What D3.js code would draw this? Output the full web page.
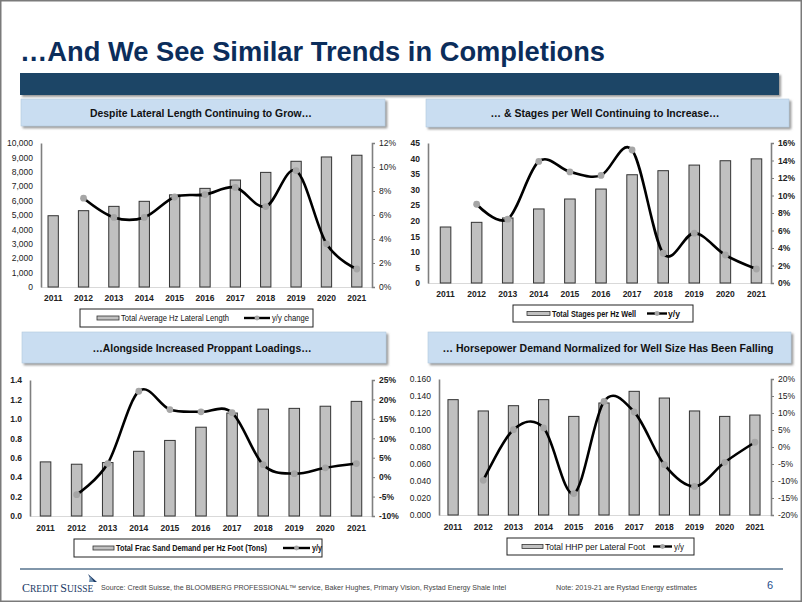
<!DOCTYPE html>
<html><head><meta charset="utf-8">
<script src="https://cdn.jsdelivr.net/npm/d3@7/dist/d3.min.js"></script>
<style>
html,body{margin:0;padding:0;background:#fff;}
svg{display:block;}
</style></head>
<body>
<script>
// ---------- DATA ----------
const years = ["2011","2012","2013","2014","2015","2016","2017","2018","2019","2020","2021"];

const lateralLength = [4950, 5300, 5600, 5950, 6400, 6850, 7430, 7960, 8730, 9030, 9150];
const lateralYoY    = [null, 7.4, 5.8, 5.8, 7.5, 7.7, 8.3, 6.7, 9.7, 3.6, 1.5];

const stagesPerWell = [18.0, 19.5, 20.9, 23.8, 27.0, 30.2, 34.8, 36.1, 37.9, 39.3, 39.9];
const stagesYoY     = [null, 9.0, 7.3, 13.9, 12.7, 12.3, 15.2, 3.4, 5.7, 3.2, 1.6];

const sandPerFoot   = [0.557, 0.533, 0.55, 0.666, 0.778, 0.914, 1.06, 1.10, 1.108, 1.13, 1.18];
const sandYoY       = [null, -4.5, 3.5, 22.1, 17.4, 16.8, 16.6, 3.2, 0.9, 2.4, 3.5];

const hhpPerFoot    = [0.1357, 0.1224, 0.1286, 0.1357, 0.116, 0.1318, 0.1455, 0.1376, 0.1224, 0.116, 0.1176];
const hhpYoY        = [null, -9.8, 5.1, 5.6, -13.7, 13.4, 10.3, -5.2, -11.6, -4.5, 1.4];

const leftTicks1  = [0,1000,2000,3000,4000,5000,6000,7000,8000,9000,10000];
const rightTicks1 = [0,2,4,6,8,10,12];
const leftTicks2  = [0,5,10,15,20,25,30,35,40,45];
const rightTicks2 = [0,2,4,6,8,10,12,14,16];
const leftTicks3  = [0,0.2,0.4,0.6,0.8,1.0,1.2,1.4];
const rightTicks3 = [-10,-5,0,5,10,15,20,25];
const leftTicks4  = [0,0.02,0.04,0.06,0.08,0.10,0.12,0.14,0.16];
const rightTicks4 = [-20,-15,-10,-5,0,5,10,15,20];

const titleText = "\u2026And We See Similar Trends in Completions";
const headers = [
  "Despite Lateral Length Continuing to Grow\u2026",
  "\u2026 & Stages per Well Continuing to Increase\u2026",
  "\u2026Alongside Increased Proppant Loadings\u2026",
  "\u2026 Horsepower Demand Normalized for Well Size Has Been Falling"
];
const barLegends  = ["Total Average Hz Lateral Length","Total Stages per Hz Well","Total Frac Sand Demand per Hz Foot (Tons)","Total  HHP per Lateral Foot"];
const lineLegends = ["y/y change","y/y","y/y","y/y"];
const sourceText = "Source: Credit Suisse, the BLOOMBERG PROFESSIONAL\u2122 service, Baker Hughes, Primary Vision, Rystad Energy Shale Intel";
const noteText = "Note: 2019-21 are Rystad Energy estimates";

// ---------- LAYOUT ----------
const W = 802, H = 602;
const SANS = "'Liberation Sans',Arial,sans-serif";
const TICK = SANS;
const FS = 8.5;

const panels = [
  {header: headers[0], hBox:[21,99,364,27], hText:[201,117,222], hSize:11,
   axisL:41, axisR:372, yTop:143, yBot:287, band:[38,372], yearY:301,
   bars: lateralLength, yoy: lateralYoY, lDom:[0,10000], rDom:[0,12],
   lTicks: leftTicks1, rTicks: rightTicks1, lFmt: d3.format(","), bold:false,
   leg:{box:[80,309,233,18], sw:97, txt:121, tw:108, ln:[244,270], ltxt:272, ltw:37}, barLeg: barLegends[0], lineLeg: lineLegends[0]},
  {header: headers[1], hBox:[426,99,363,28], hText:[605,117,229], hSize:11,
   axisL:428, axisR:771, yTop:143, yBot:283, band:[430,772], yearY:297,
   bars: stagesPerWell, yoy: stagesYoY, lDom:[0,45], rDom:[0,16],
   lTicks: leftTicks2, rTicks: rightTicks2, lFmt: d3.format("d"), bold:true,
   leg:{box:[513,305,180,17], sw:527, txt:552, tw:84, ln:[647,667], ltxt:668, ltw:12}, barLeg: barLegends[1], lineLeg: lineLegends[1]},
  {header: headers[2], hBox:[22,332,364,31], hText:[202,352,219], hSize:11,
   axisL:30, axisR:372, yTop:380, yBot:516, band:[30,372], yearY:531,
   bars: sandPerFoot, yoy: sandYoY, lDom:[0,1.4], rDom:[-10,25],
   lTicks: leftTicks3, rTicks: rightTicks3, lFmt: d3.format(".1f"), bold:true,
   leg:{box:[74,539,248,18], sw:93, txt:116, tw:151, ln:[283,310], ltxt:312, ltw:10}, barLeg: barLegends[2], lineLeg: lineLegends[2]},
  {header: headers[3], hBox:[428,332,363,31], hText:[608,352,331], hSize:10.5,
   axisL:439, axisR:771, yTop:379, yBot:515, band:[438,770], yearY:530,
   bars: hhpPerFoot, yoy: hhpYoY, lDom:[0,0.16], rDom:[-20,20],
   lTicks: leftTicks4, rTicks: rightTicks4, lFmt: d3.format(".3f"), bold:false,
   leg:{box:[507,538,187,17], sw:522, txt:545, tw:100, ln:[653,672], ltxt:674, ltw:10}, barLeg: barLegends[3], lineLeg: lineLegends[3]}
];

const svg = d3.select("body").append("svg").attr("width", W).attr("height", H);
const defs = svg.append("defs");
const f = defs.append("filter").attr("id","sh").attr("x","-5%").attr("y","-20%").attr("width","115%").attr("height","160%");
f.append("feDropShadow").attr("dx",2).attr("dy",2).attr("stdDeviation",1.2).attr("flood-color","#777").attr("flood-opacity",0.75);

svg.append("rect").attr("x",0).attr("y",0).attr("width",W).attr("height",H).attr("fill","#fff");

// Title
svg.append("text").attr("x",20).attr("y",61)
  .attr("font-family",SANS).attr("font-weight","bold").attr("font-size",27)
  .attr("fill","#0b2d5b").attr("textLength",585).attr("lengthAdjust","spacingAndGlyphs")
  .text(titleText);
// Band
svg.append("rect").attr("x",20).attr("y",73).attr("width",759).attr("height",22)
  .attr("fill","#1f4466").attr("filter","url(#sh)");

panels.forEach(p => {
  const g = svg.append("g");
  // header box
  g.append("rect").attr("x",p.hBox[0]).attr("y",p.hBox[1]).attr("width",p.hBox[2]).attr("height",p.hBox[3])
    .attr("fill","#c9ddf1").attr("stroke","#b3c9de").attr("stroke-width",0.6).attr("filter","url(#sh)");
  g.append("text").attr("x",p.hText[0]).attr("y",p.hText[1]).attr("text-anchor","middle")
    .attr("font-family",SANS).attr("font-weight","bold").attr("font-size",p.hSize).attr("fill","#111")
    .attr("textLength",p.hText[2]).attr("lengthAdjust","spacingAndGlyphs").text(p.header);

  const x = d3.scaleBand().domain(years).range(p.band).padding(0);
  const yL = d3.scaleLinear().domain(p.lDom).range([p.yBot,p.yTop]);
  const yR = d3.scaleLinear().domain(p.rDom).range([p.yBot,p.yTop]);
  const bw = x.bandwidth()*0.34;
  const fw = p.bold ? "bold" : "normal";

  // x baseline
  g.append("line").attr("x1",p.axisL).attr("x2",p.axisR).attr("y1",p.yBot+0.5).attr("y2",p.yBot+0.5)
    .attr("stroke","#d9d9d9").attr("stroke-width",1);

  // bars
  g.selectAll("rect.bar").data(p.bars).enter().append("rect").attr("class","bar")
    .attr("x",(d,i)=>x(years[i])+x.bandwidth()/2-bw/2)
    .attr("y",d=>yL(d)).attr("width",bw).attr("height",d=>p.yBot-yL(d))
    .attr("fill","#c0c0c0").attr("stroke","#333").attr("stroke-width",1);

  // left axis
  const aL = g.append("g").attr("transform",`translate(${p.axisL},0)`)
    .call(d3.axisLeft(yL).tickValues(p.lTicks).tickFormat(p.lFmt).tickSize(0).tickPadding(8));
  aL.select(".domain").attr("stroke","#7f7f7f").attr("stroke-width",1.6);
  aL.selectAll("text").attr("font-family",TICK).attr("font-size",FS).attr("font-weight",fw).attr("fill","#222");

  // right axis
  const aR = g.append("g").attr("transform",`translate(${p.axisR},0)`)
    .call(d3.axisRight(yR).tickValues(p.rTicks).tickFormat(d=>d+"%").tickSize(3).tickPadding(4));
  aR.select(".domain").attr("stroke","#7f7f7f").attr("stroke-width",1.6);
  aR.selectAll("line").attr("stroke","#7f7f7f");
  aR.selectAll("text").attr("font-family",TICK).attr("font-size",FS).attr("font-weight",fw).attr("fill","#222");

  // x labels
  g.selectAll("text.yr").data(years).enter().append("text").attr("class","yr")
    .attr("x",d=>x(d)+x.bandwidth()/2).attr("y",p.yearY).attr("text-anchor","middle")
    .attr("font-family",TICK).attr("font-size",FS).attr("font-weight","bold").attr("fill","#222").text(d=>d);

  // line
  const pts = p.yoy.map((v,i)=>({v, yr: years[i]})).filter(d=>d.v!==null);
  const line = d3.line().x(d=>x(d.yr)+x.bandwidth()/2).y(d=>yR(d.v)).curve(d3.curveCardinal.tension(0));
  g.append("path").datum(pts).attr("d",line).attr("fill","none").attr("stroke","#000").attr("stroke-width",2.6);
  g.selectAll("circle.m").data(pts).enter().append("circle").attr("class","m")
    .attr("cx",d=>x(d.yr)+x.bandwidth()/2).attr("cy",d=>yR(d.v)).attr("r",3.4).attr("fill","#a6a6a6");

  // legend
  const L = p.leg;
  g.append("rect").attr("x",L.box[0]).attr("y",L.box[1]).attr("width",L.box[2]).attr("height",L.box[3])
    .attr("fill","#fff").attr("stroke","#222").attr("stroke-width",1);
  const cy = L.box[1]+L.box[3]/2;
  g.append("rect").attr("x",L.sw).attr("y",cy-2).attr("width",L.txt-L.sw-2).attr("height",4)
    .attr("fill","#c0c0c0").attr("stroke","#333").attr("stroke-width",0.8);
  g.append("text").attr("x",L.txt).attr("y",cy+3).attr("font-family",TICK).attr("font-size",FS)
    .attr("font-weight",fw).attr("fill","#111").attr("textLength",L.tw).attr("lengthAdjust","spacingAndGlyphs").text(p.barLeg);
  g.append("line").attr("x1",L.ln[0]).attr("x2",L.ln[1]).attr("y1",cy).attr("y2",cy).attr("stroke","#000").attr("stroke-width",2.4);
  g.append("circle").attr("cx",(L.ln[0]+L.ln[1])/2).attr("cy",cy).attr("r",2.4).attr("fill","#a6a6a6");
  g.append("text").attr("x",L.ltxt).attr("y",cy+3).attr("font-family",TICK).attr("font-size",FS)
    .attr("font-weight",fw).attr("fill","#111").attr("textLength",L.ltw).attr("lengthAdjust","spacingAndGlyphs").text(p.lineLeg);
});

// Footer
svg.append("line").attr("x1",20).attr("x2",783).attr("y1",569).attr("y2",569).attr("stroke","#8196aa").attr("stroke-width",2);
const logo = svg.append("text").attr("x",22).attr("y",592).attr("font-family","'Liberation Serif','DejaVu Serif',serif")
  .attr("fill","#1b3a66").attr("font-size",9.5);
logo.append("tspan").attr("font-size",12).text("C");
logo.append("tspan").text("REDIT ");
logo.append("tspan").attr("font-size",12).text("S");
logo.append("tspan").text("UISSE");
svg.append("path").attr("d","M88,574 L97,582 L92,582 Z").attr("fill","#1b3a66");
svg.append("path").attr("d","M90,576 L94,582 L89,582 Z").attr("fill","#6d8fb0");
svg.append("text").attr("x",101).attr("y",590).attr("font-family",SANS).attr("font-size",7).attr("fill","#444")
  .attr("textLength",405).attr("lengthAdjust","spacingAndGlyphs").text(sourceText);
svg.append("text").attr("x",556).attr("y",590).attr("font-family",SANS).attr("font-size",7).attr("fill","#444")
  .attr("textLength",141).attr("lengthAdjust","spacingAndGlyphs").text(noteText);
svg.append("text").attr("x",767).attr("y",589).attr("font-family",SANS).attr("font-size",11).attr("fill","#1f4e8c").text("6");

// page border
svg.append("rect").attr("x",0.75).attr("y",0.75).attr("width",W-1.5).attr("height",H-1.5)
  .attr("fill","none").attr("stroke","#7a7a7a").attr("stroke-width",1.5);
</script>
</body></html>
